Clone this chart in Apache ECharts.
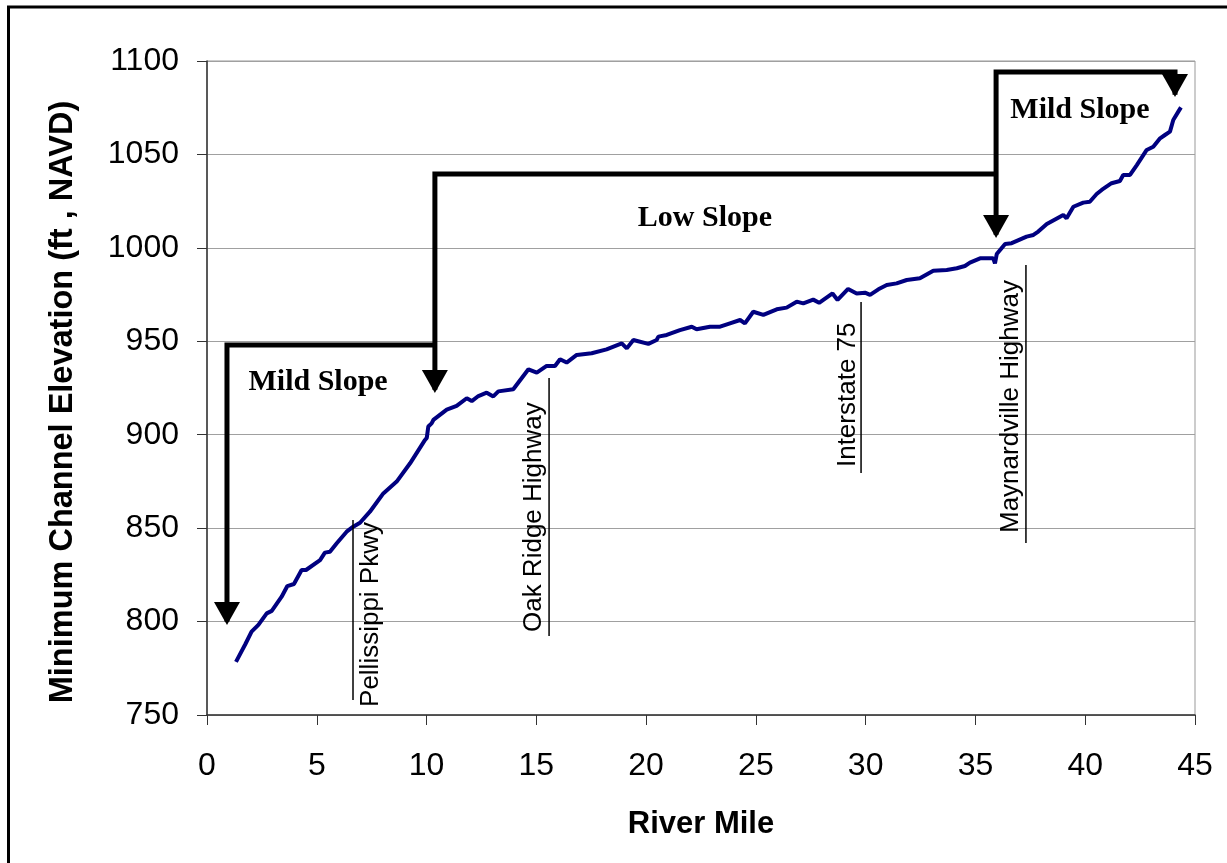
<!DOCTYPE html>
<html><head><meta charset="utf-8">
<script src="https://cdn.jsdelivr.net/npm/echarts@6/dist/echarts.min.js"></script>
<style>html,body{margin:0;padding:0;background:#fff}#c{width:1227px;height:863px}</style>
</head><body><div id="c"></div>
<script>
// ---- data ----
const riverMile = [1.32,1.75,2.03,2.34,2.72,2.95,3.40,3.66,3.96,4.31,4.51,5.15,5.37,5.60,5.91,6.36,6.66,6.97,7.42,8.03,8.64,9.25,9.93,10.01,10.08,10.23,10.31,10.92,11.37,11.83,12.06,12.36,12.74,13.04,13.27,13.95,14.64,15.02,15.47,15.85,16.08,16.38,16.84,17.52,18.20,18.89,19.12,19.42,20.10,20.48,20.56,20.94,21.54,22.08,22.30,22.91,23.37,23.82,24.28,24.50,24.88,25.34,25.95,26.40,26.86,27.16,27.61,27.88,28.49,28.72,29.20,29.59,29.97,30.20,30.58,30.96,31.41,31.87,32.47,33.08,33.69,34.15,34.52,34.75,35.21,35.81,35.89,35.97,36.35,36.65,37.33,37.64,37.86,38.25,39.00,39.15,39.46,39.91,40.21,40.52,40.75,41.20,41.58,41.73,42.04,42.35,42.80,43.10,43.41,43.63,43.86,44.01,44.24,44.36];
const elevation = [778.4,788.0,794.6,798.2,804.4,805.7,813.3,819.0,820.1,827.6,827.6,832.9,836.9,837.4,841.9,848.1,850.8,852.9,858.8,868.6,874.9,884.7,897.2,898.3,904.4,906.1,907.9,913.4,915.4,919.5,918.0,920.7,922.5,920.5,923.2,924.3,935.0,933.2,936.8,936.8,940.4,938.6,942.7,943.6,945.7,948.9,946.2,950.7,948.6,950.7,952.5,953.4,956.0,957.8,956.4,957.8,957.8,959.6,961.4,959.6,965.8,964.1,967.1,968.0,971.2,970.3,972.3,970.6,975.6,972.1,978.0,975.6,976.0,974.8,977.8,980.1,981.0,982.8,983.7,987.8,988.2,989.1,990.3,992.1,994.4,994.4,991.7,996.7,1002.1,1002.5,1006.0,1006.9,1008.7,1012.8,1017.6,1015.8,1022.0,1024.2,1024.7,1028.8,1031.0,1034.6,1035.8,1039.0,1039.0,1044.3,1052.4,1054.1,1058.6,1060.4,1062.2,1068.4,1072.9,1075.2];

const xMin = 0, xMax = 45, xStep = 5;
const yMin = 750, yMax = 1100, yStep = 50;
const xTitle = 'River Mile';
const yTitle = 'Minimum Channel Elevation (ft , NAVD)';

// slope reach brackets (river mile, elevation)
const bracketPaths = [
  [[0.91, 800], [0.91, 948.0], [10.38, 948.0]],
  [[10.38, 924], [10.38, 1039.5], [35.94, 1039.5]],
  [[35.94, 1007], [35.94, 1094.1], [44.09, 1094.1], [44.09, 1082]]
];
const arrowTipMile = [0.91, 10.38, 35.94, 44.09];
const arrowTipElev = [798.2, 922.3, 1005.3, 1080.7];

const slopeNames = ['Mild Slope', 'Low Slope', 'Mild Slope'];
const slopeMile = [5.06, 22.68, 39.76];
const slopeElev = [928.2, 1016.0, 1073.8];

const bridgeNames = ['Pellissippi Pkwy', 'Oak Ridge Highway', 'Interstate 75', 'Maynardville Highway'];
const bridgeMile = [6.65, 15.58, 29.79, 37.30];
const bridgeTop = [854.4, 930.4, 971.0, 990.8];
const bridgeBottom = [758.0, 792.3, 879.5, 842.0];
const bridgeTextStart = [754.3, 794.4, 882.7, 847.4];

// ---- layout / style ----
const bridgeTextSide = [18, -15, -13, -15];
const SANS = '"Liberation Sans", Arial, sans-serif';
const SERIF = '"Liberation Serif", "Times New Roman", serif';

const chart = echarts.init(document.getElementById('c'), null, {renderer: 'canvas'});
const curve = riverMile.map((m, i) => [m, elevation[i]]);

chart.setOption({
  animation: false,
  backgroundColor: '#fff',
  graphic: [{
    type: 'rect', shape: {x: 8.5, y: 7, width: 1240, height: 880},
    style: {fill: null, stroke: '#000', lineWidth: 3}, silent: true, z: 0
  }],
  grid: {left: 207, top: 61, right: 32, bottom: 148, show: true, borderColor: '#999', borderWidth: 1, backgroundColor: 'transparent'},
  xAxis: {
    type: 'value', min: xMin, max: xMax, interval: xStep,
    axisLine: {show: true, lineStyle: {color: '#333', width: 1.5}},
    axisTick: {show: true, length: 10, lineStyle: {color: '#333', width: 1}},
    axisLabel: {fontSize: 32, color: '#000', fontFamily: SANS, margin: 35, showMinLabel: true, showMaxLabel: true,
      formatter: v => String(v)},
    splitLine: {show: false},
    name: xTitle, nameLocation: 'middle', nameGap: 94,
    nameTextStyle: {fontSize: 31, fontWeight: 'bold', color: '#000', fontFamily: SANS}
  },
  yAxis: {
    type: 'value', min: yMin, max: yMax, interval: yStep,
    axisLine: {show: true, lineStyle: {color: '#333', width: 1.5}},
    axisTick: {show: true, length: 10, lineStyle: {color: '#333', width: 1}},
    axisLabel: {fontSize: 32, color: '#000', fontFamily: SANS, margin: 28, showMinLabel: true, showMaxLabel: true,
      formatter: v => String(v)},
    splitLine: {show: true, lineStyle: {color: '#a0a0a0', width: 1}},
    name: yTitle, nameLocation: 'middle', nameGap: 127,
    nameTextStyle: {fontSize: 32.5, fontWeight: 'bold', color: '#000', fontFamily: SANS, padding: [0, 28, 0, 0]}
  },
  series: [
    {
      type: 'line', data: curve, showSymbol: false, symbol: 'none', z: 3,
      lineStyle: {color: '#000080', width: 4}, silent: true
    },
    {
      type: 'custom', coordinateSystem: 'cartesian2d', clip: false, z: 5, silent: true,
      data: bracketPaths.map(p => p[0]),
      renderItem(params, api) {
        const pts = bracketPaths[params.dataIndex].map(p => api.coord(p));
        return {type: 'polyline', shape: {points: pts},
          style: {stroke: '#000', lineWidth: 5, fill: null, lineJoin: 'miter', lineCap: 'butt'}};
      }
    },
    {
      type: 'custom', coordinateSystem: 'cartesian2d', clip: false, z: 6, silent: true,
      data: arrowTipMile.map((m, i) => [m, arrowTipElev[i]]),
      renderItem(params, api) {
        const t = api.coord([api.value(0), api.value(1)]);
        return {type: 'polygon', shape: {points: [[t[0] - 13, t[1] - 23], [t[0] + 13, t[1] - 23], [t[0], t[1]]]},
          style: {fill: '#000'}};
      }
    },
    {
      type: 'custom', coordinateSystem: 'cartesian2d', clip: false, z: 6, silent: true,
      data: slopeMile.map((m, i) => [m, slopeElev[i]]),
      renderItem(params, api) {
        const c = api.coord([api.value(0), api.value(1)]);
        return {type: 'text', x: c[0], y: c[1],
          style: {text: slopeNames[params.dataIndex], font: 'bold 30px ' + SERIF, fill: '#000', align: 'center', verticalAlign: 'middle'}};
      }
    },
    {
      type: 'custom', coordinateSystem: 'cartesian2d', clip: false, z: 6, silent: true,
      data: bridgeMile.map((m, i) => [m, bridgeBottom[i]]),
      renderItem(params, api) {
        const i = params.dataIndex;
        const top = api.coord([bridgeMile[i], bridgeTop[i]]);
        const bot = api.coord([bridgeMile[i], bridgeBottom[i]]);
        const ts = api.coord([bridgeMile[i], bridgeTextStart[i]]);
        return {type: 'group', children: [
          {type: 'line', shape: {x1: top[0], y1: top[1], x2: bot[0], y2: bot[1]}, style: {stroke: '#000', lineWidth: 1.5}},
          {type: 'text', x: ts[0] + bridgeTextSide[i], y: ts[1], rotation: Math.PI / 2,
            style: {text: bridgeNames[i], font: '26px ' + SANS, fill: '#000', align: 'left', verticalAlign: 'middle'}}
        ]};
      }
    }
  ]
});
</script></body></html>
